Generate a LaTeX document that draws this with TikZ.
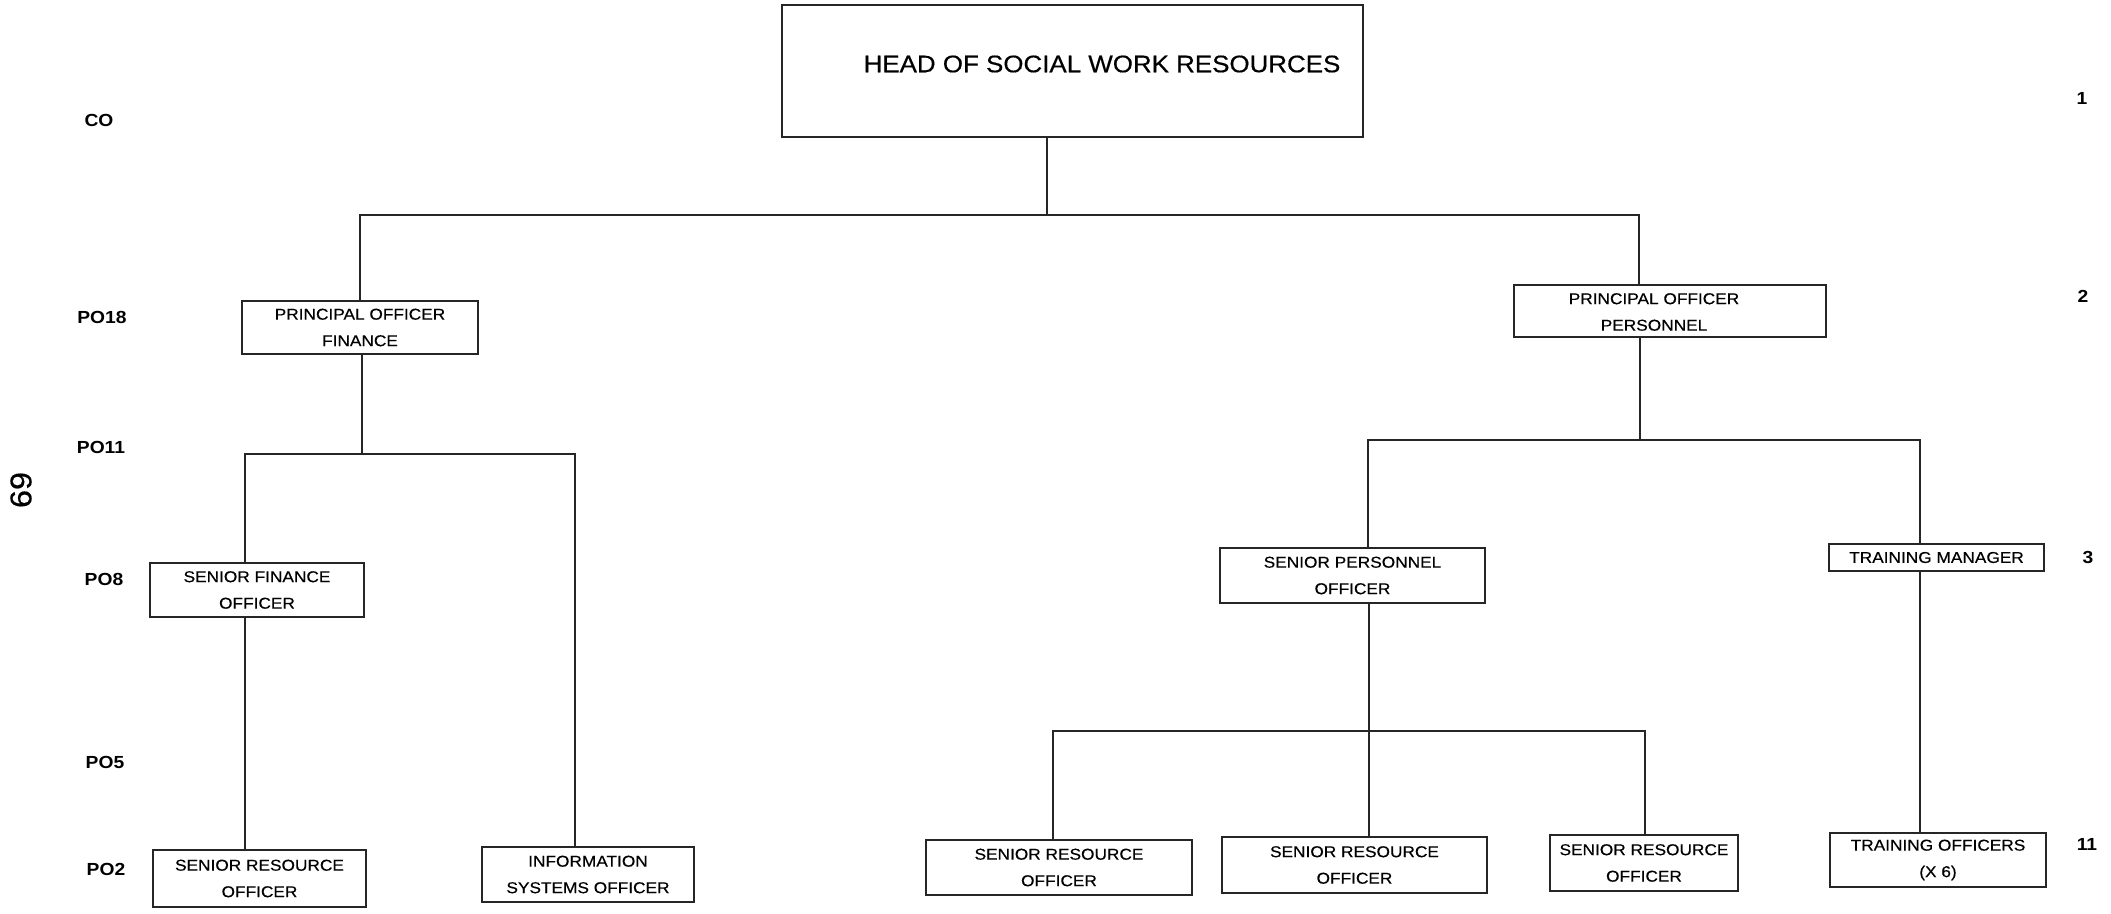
\documentclass[tikz,border=0pt]{standalone}
\usepackage{fontspec}
% Slightly widened Arial-metric sans for the chart lettering
\newfontfamily\chartfont{Liberation Sans}[FakeStretch=1.1, FakeBold=0.4]
\newfontfamily\headfont{Liberation Sans}[FakeStretch=1.08, FakeBold=0.5]
\newfontfamily\gradefont{Liberation Sans}[FakeStretch=1.1]
\begin{document}
\begin{tikzpicture}[x=1pt,y=-1pt,
  post/.style={draw=black!85, line width=1.5pt, inner sep=0pt, align=center,
    font=\chartfont\fontsize{15.7}{26.5}\selectfont},
  posttext/.style={inner sep=0pt, align=center,
    font=\chartfont\fontsize{15.7}{26.5}\selectfont},
  grade/.style={font=\gradefont\bfseries\fontsize{17.5}{20}\selectfont, inner sep=0pt},
  link/.style={draw=black!85, line width=1.5pt}]
\useasboundingbox (0,0) rectangle (2111,913);

% ---- posts ----
\node[post, minimum width=581pt, minimum height=132pt] (head) at (1072.5,71) {};
\node[font=\headfont\fontsize{24}{28}\selectfont, inner sep=0pt] (headtitle) at (1102,64)
  {HEAD OF SOCIAL WORK RESOURCES};

\node[post, minimum width=236pt, minimum height=53pt] (pofin) at (360,327.5)
  {PRINCIPAL OFFICER\\FINANCE};
\node[post, minimum width=312pt, minimum height=52pt] (poper) at (1670,311) {};
\node[posttext] (popertitle) at (1654,312) {PRINCIPAL OFFICER\\PERSONNEL};

\node[post, minimum width=214pt, minimum height=54pt] (sfo) at (257,590)
  {SENIOR FINANCE\\OFFICER};
\node[post, minimum width=213pt, minimum height=57pt] (sroA) at (259.5,878.5)
  {SENIOR RESOURCE\\OFFICER};
\node[post, minimum width=212pt, minimum height=55pt] (iso) at (588,874.5)
  {INFORMATION\\SYSTEMS OFFICER};

\node[post, minimum width=265pt, minimum height=55pt] (spo) at (1352.5,575.5)
  {SENIOR PERSONNEL\\OFFICER};
\node[post, minimum width=215pt, minimum height=27pt] (tm) at (1936.5,557.5)
  {TRAINING MANAGER};
\node[post, minimum width=216pt, minimum height=54pt] (to) at (1938,860)
  {TRAINING OFFICERS\\(X 6)};
\node[post, minimum width=266pt, minimum height=55pt] (sroB) at (1059,867.5)
  {SENIOR RESOURCE\\OFFICER};
\node[post, minimum width=265pt, minimum height=56pt] (sroC) at (1354.5,865)
  {SENIOR RESOURCE\\OFFICER};
\node[post, minimum width=188pt, minimum height=56pt] (sroD) at (1644,863)
  {SENIOR RESOURCE\\OFFICER};

% ---- junction points of the reporting lines ----
\coordinate (j0)  at (1047,215);
\coordinate (j0r) at (1639,215);
\coordinate (j1)  at (362,454);
\coordinate (j1l) at (245,454);
\coordinate (j1r) at (575,454);
\coordinate (j2)  at (1640,440);
\coordinate (j2l) at (1368,440);
\coordinate (j2r) at (1920,440);
\coordinate (j3)  at (1369,731);
\coordinate (j3l) at (1053,731);
\coordinate (j3r) at (1645,731);

% ---- reporting lines ----
\draw[link] (head.south -| j0) -- (j0);
\draw[link] (pofin.north) |- (j0r) -- (poper.north -| j0r);

\draw[link] (pofin.south -| j1) -- (j1);
\draw[link] (sfo.north -| j1l) |- (j1r) -- (iso.north -| j1r);
\draw[link] (sfo.south -| j1l) -- (sroA.north -| j1l);

\draw[link] (poper.south -| j2) -- (j2);
\draw[link] (spo.north -| j2l) |- (j2r) -- (tm.north -| j2r);
\draw[link] (tm.south -| j2r) -- (to.north -| j2r);

\draw[link] (spo.south -| j3) -- (sroC.north -| j3);
\draw[link] (sroB.north -| j3l) |- (j3r) -- (sroD.north -| j3r);

% ---- grade column ----
\node[grade] (gco)   at (99,120)  {CO};
\node[grade] (gpo18) at (102,317) {PO18};
\node[grade] (gpo11) at (101,447) {PO11};
\node[grade] (gpo8)  at (104,579) {PO8};
\node[grade] (gpo5)  at (105,762) {PO5};
\node[grade] (gpo2)  at (106,869) {PO2};

% ---- post counts ----
\node[grade] (c1)  at (2082,98)  {1};
\node[grade] (c2)  at (2083,296) {2};
\node[grade] (c3)  at (2088,557) {3};
\node[grade] (c11) at (2087,844) {11};

% ---- page number ----
\node[font=\headfont\fontsize{30}{32}\selectfont, inner sep=0pt, rotate=90] (pageno)
  at (21,490) {69};
\end{tikzpicture}
\end{document}
